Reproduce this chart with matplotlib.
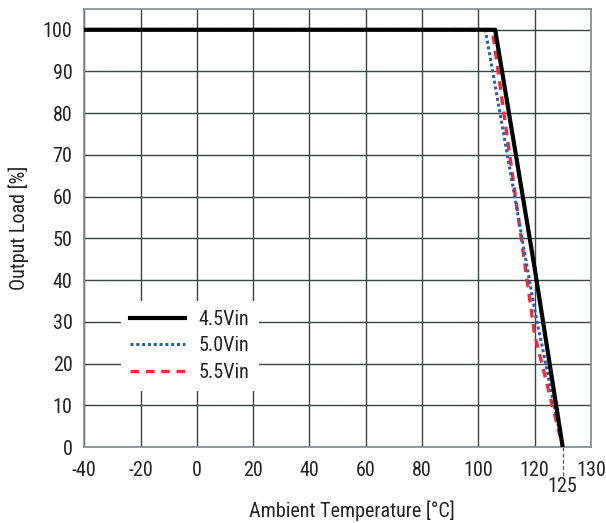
import numpy as np
import matplotlib
matplotlib.use('Agg')
import matplotlib.pyplot as plt
import matplotlib.transforms as mtransforms
from matplotlib import font_manager

# prefer a narrow sans face like the original
installed = {f.name for f in font_manager.fontManager.ttflist}
narrow = [n for n in ['Liberation Sans Narrow', 'DejaVu Sans Condensed', 'Roboto Condensed',
                      'Open Sans Condensed', 'Liberation Sans'] if n in installed]
plt.rcParams['font.family'] = narrow[:1] + ['DejaVu Sans']
plt.rcParams['font.stretch'] = 'condensed'

# derating curves, temperature (C) vs output load (%)
temp_45 = [-40, 106, 120, 125]
load_45 = [100, 100, 43, 0]
temp_50 = [-40, 102.5, 120, 125]
load_50 = [100, 100, 33, 0]
temp_55 = [-40, 105, 120, 125]
load_55 = [100, 100, 27, 0]

x_ticks = [-40, -20, 0, 20, 40, 60, 80, 100, 120, 130]
y_ticks = [0, 10, 20, 30, 40, 50, 60, 70, 80, 90, 100]
labels = ['4.5Vin', '5.0Vin', '5.5Vin']


# axis is stretched above 120C (last 10 deg take a full grid cell)
def fwd(x):
    x = np.asarray(x, dtype=float)
    return np.where(x <= 120, x, 120 + (x - 120) * 2)


def inv(y):
    y = np.asarray(y, dtype=float)
    return np.where(y <= 120, y, 120 + (y - 120) / 2)


fs = 14.5 if narrow and narrow[0] != 'Liberation Sans' else 12.5

fig = plt.figure(figsize=(6.06, 5.23), dpi=100)
ax = fig.add_axes([0.139, 0.1453, 0.836, 0.8377])
ax.set_xscale('function', functions=(fwd, inv))

ax.plot(temp_45, load_45, color='black', lw=3.0, label=labels[0], zorder=5)
ax.plot(temp_50, load_50, color='#2a5fb0', lw=2.2, ls=(0, (1, 0.9)), label=labels[1], zorder=4)
ax.plot(temp_55, load_55, color='#ee2d38', lw=2.4, ls=(0, (2.6, 2.0)), label=labels[2], zorder=3)

ax.set_xlim(-40, 130)
ax.set_ylim(0, 105)
ax.set_xticks(x_ticks)
ax.set_xticklabels([str(t) for t in x_ticks])
ax.set_yticks(y_ticks)
ax.set_xticks([125], minor=True)
ax.set_xticklabels(['125'], minor=True)
ax.tick_params(axis='x', which='major', length=0, pad=10, labelsize=fs, colors='#222222')
ax.tick_params(axis='x', which='minor', length=0, pad=21.5, labelsize=fs, colors='#222222')
ax.tick_params(axis='y', length=0, pad=8.5, labelsize=fs, colors='#222222')

ax.grid(True, which='major', color='#3c4444', lw=1.0)
for s in ax.spines.values():
    s.set_color('#7f8b8b')
    s.set_linewidth(1.2)

# dashed marker below the axis at 125
trans = mtransforms.blended_transform_factory(ax.transData, ax.transAxes)
ax.plot([125, 125], [0, -0.068], transform=trans, clip_on=False,
        color='#555555', lw=0.9, ls=(0, (3, 2)))

ax.set_xlabel('Ambient Temperature [\u00b0C]', fontsize=fs, color='#222222')
ax.xaxis.set_label_coords(0.528, -0.123)
ax.set_ylabel('Output Load [%]', fontsize=fs, color='#222222', labelpad=10)

leg = ax.legend(loc='upper left', bbox_to_anchor=(0.073, 0.334), fontsize=fs,
                frameon=True, fancybox=False, framealpha=1, edgecolor='none',
                handlelength=2.7, handletextpad=0.7, labelspacing=0.38,
                borderaxespad=0, borderpad=0.45)
for t in leg.get_texts():
    t.set_color('#222222')

fig.savefig('out.png', dpi=100)
